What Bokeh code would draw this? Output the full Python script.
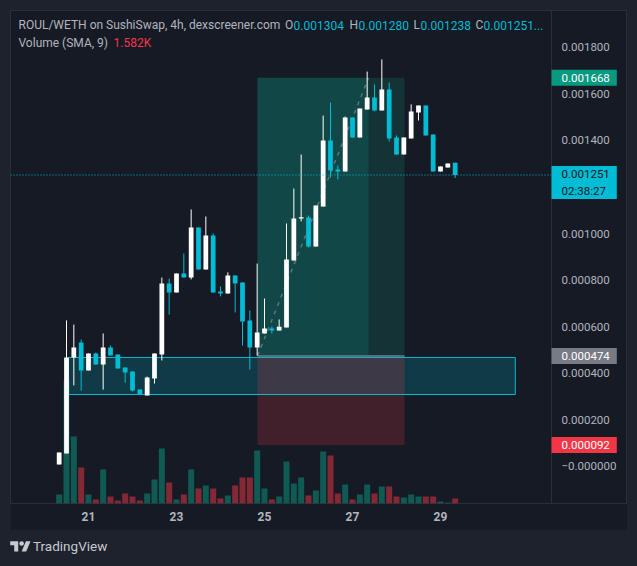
from bokeh.plotting import figure
from bokeh.models import (Range1d, FixedTicker, NumeralTickFormatter, Label,
                          ColumnDataSource, Div)
from bokeh.layouts import column
from bokeh.embed import file_html
from bokeh.resources import INLINE

# ---------------- data (4h candles, ROUL/WETH) ----------------
opens = [0.000009, 0.000056, 0.000468, 0.000532, 0.000412, 0.000485, 0.000438, 0.000511,
         0.000481, 0.000425, 0.000408, 0.000330, 0.000305, 0.000378, 0.000481, 0.000785,
         0.000747, 0.000828, 0.000811, 0.001026, 0.000845, 0.000991, 0.000751, 0.000742,
         0.000820, 0.000790, 0.000627, 0.000511, 0.000571, 0.000592, 0.000584, 0.000597,
         0.000884, 0.001064, 0.001069, 0.000944, 0.001116, 0.001399, 0.001275, 0.001266,
         0.001498, 0.001412, 0.001532, 0.001584, 0.001528, 0.001618, 0.001412, 0.001339,
         0.001408, 0.001519, 0.001549, 0.001425, 0.001266, 0.001283, 0.001304]
highs = [0.000060, 0.000627, 0.000609, 0.000545, 0.000485, 0.000489, 0.000571, 0.000519,
         0.000481, 0.000425, 0.000408, 0.000330, 0.000386, 0.000485, 0.000811, 0.000807,
         0.000828, 0.000914, 0.001103, 0.001026, 0.001073, 0.001000, 0.000773, 0.000833,
         0.000820, 0.000790, 0.000670, 0.000871, 0.000721, 0.000601, 0.000631, 0.001043,
         0.001193, 0.001339, 0.001077, 0.001120, 0.001506, 0.001562, 0.001292, 0.001502,
         0.001498, 0.001536, 0.001695, 0.001640, 0.001747, 0.001648, 0.001421, 0.001412,
         0.001554, 0.001549, 0.001549, 0.001425, 0.001288, 0.001300, 0.001304]
lows = [0.000009, 0.000056, 0.000348, 0.000326, 0.000412, 0.000438, 0.000330, 0.000476,
        0.000421, 0.000360, 0.000322, 0.000309, 0.000305, 0.000356, 0.000455, 0.000652,
        0.000747, 0.000811, 0.000803, 0.000845, 0.000845, 0.000747, 0.000730, 0.000742,
        0.000661, 0.000519, 0.000416, 0.000476, 0.000571, 0.000571, 0.000584, 0.000597,
        0.000884, 0.001052, 0.000940, 0.000944, 0.001116, 0.001240, 0.001232, 0.001266,
        0.001412, 0.001412, 0.001532, 0.001524, 0.001528, 0.001395, 0.001339, 0.001339,
        0.001408, 0.001485, 0.001421, 0.001266, 0.001266, 0.001283, 0.001238]
closes = [0.000060, 0.000468, 0.000511, 0.000412, 0.000485, 0.000438, 0.000511, 0.000476,
          0.000421, 0.000403, 0.000326, 0.000309, 0.000382, 0.000485, 0.000785, 0.000747,
          0.000828, 0.000811, 0.001026, 0.000845, 0.000991, 0.000747, 0.000742, 0.000820,
          0.000785, 0.000622, 0.000511, 0.000575, 0.000592, 0.000584, 0.000600, 0.000888,
          0.001064, 0.001070, 0.000944, 0.001120, 0.001399, 0.001270, 0.001266, 0.001498,
          0.001412, 0.001536, 0.001584, 0.001528, 0.001618, 0.001408, 0.001339, 0.001412,
          0.001524, 0.001549, 0.001421, 0.001266, 0.001288, 0.001300, 0.001251]
volumes_k = [2.10, 28.66, 15.61, 8.39, 2.10, 0.93, 7.92, 1.63, 0.70, 2.33, 1.63, 0.70,
             2.33, 5.59, 12.82, 4.89, 0.93, 2.10, 7.92, 3.50, 4.19, 3.50, 1.17, 1.86,
             4.19, 6.06, 6.06, 12.35, 3.50, 0.93, 1.63, 9.79, 4.66, 6.06, 1.86, 3.03,
             12.12, 11.18, 2.33, 4.43, 0.93, 2.10, 4.43, 2.33, 3.96, 3.96, 1.63, 1.40,
             2.10, 1.63, 1.63, 1.63, 0.47, 0.23, 1.17]

day_ticks = [4, 16, 28, 40, 52]
day_labels = ["21", "23", "25", "27", "29"]
price_ticks = [0.0, 0.0002, 0.0004, 0.0006, 0.0008, 0.0010, 0.0014, 0.0016, 0.0018]

zone_start, zone_end = 1.27, 62.2
zone_bottom, zone_top = 0.000309, 0.000468

pos_start, pos_hit, pos_end = 27.04, 42.18, 47.09
entry_price, target_price, stop_price = 0.000474, 0.001668, 0.000092
last_price = 0.001251
countdown = "02:38:27"

title_text = "ROUL/WETH on SushiSwap, 4h, dexscreener.com"
ohlc_names = ["O", "H", "L", "C"]
ohlc_values = ["0.001304", "0.001280", "0.001238", "0.001251..."]
vol_title = "Volume (SMA, 9)"
vol_sma_text = "1.582K"

# ---------------- view / style ----------------
X_START, X_END = -6.637, 77.50      # frame spans chart + price scale
SCALE_X = 67.14                     # price scale separator
Y_START, Y_END = -0.0001588, 0.0019571
FRAME_W, FRAME_H = 617, 493
VOL_TOP = 114.87

PANEL = "#161a25"
OUTER = "#1e222d"
GRID_LINE = "#2a2e39"
TXT = "#b2b5be"
UP = "#ffffff"
DOWN = "#00bcd4"
FONT = "Roboto"

PX_X = (X_END - X_START) / FRAME_W
PX_Y = (Y_END - Y_START) / FRAME_H


def fx(px):
    return X_START + px * PX_X


def fy(py):
    return Y_END - py * PX_Y


n = len(opens)
idx = list(range(n))
is_up = [c >= o for o, c in zip(opens, closes)]
src = ColumnDataSource(dict(
    x=idx,
    top=[max(o, c) for o, c in zip(opens, closes)],
    bottom=[min(o, c) for o, c in zip(opens, closes)],
    high=highs, low=lows,
    color=[UP if u else DOWN for u in is_up],
    vol=volumes_k,
    vcolor=["#089981" if u else "#f23645" for u in is_up],
))

p = figure(frame_width=FRAME_W, frame_height=FRAME_H,
           x_range=Range1d(X_START, X_END), y_range=Range1d(Y_START, Y_END),
           y_axis_location="right", output_backend="svg", toolbar_location=None,
           min_border_left=0, min_border_top=0, min_border_right=0, min_border_bottom=27)
p.margin = (10, 10, 0, 10)
p.extra_y_ranges = {"vol": Range1d(0, VOL_TOP)}
p.background_fill_color = PANEL
p.border_fill_color = PANEL
p.outline_line_color = GRID_LINE
p.xgrid.grid_line_color = None
p.ygrid.grid_line_color = None

# volume
p.vbar(x="x", width=0.82, top="vol", bottom=0, source=src, y_range_name="vol",
       fill_color="vcolor", fill_alpha=0.5, line_color=None)

# zone rectangle
p.quad(left=[zone_start], right=[zone_end], bottom=[zone_bottom], top=[zone_top],
       fill_color=DOWN, fill_alpha=0.2, line_color=None)

# long position tool
p.quad(left=[pos_start], right=[pos_end], bottom=[entry_price], top=[target_price],
       fill_color="#089981", fill_alpha=0.2, line_color=None)
p.quad(left=[pos_start], right=[pos_hit], bottom=[entry_price], top=[target_price],
       fill_color="#089981", fill_alpha=0.2, line_color=None)
p.quad(left=[pos_start], right=[pos_end], bottom=[stop_price], top=[entry_price],
       fill_color="#f23645", fill_alpha=0.2, line_color=None)
p.segment(x0=[pos_start], y0=[entry_price], x1=[pos_end], y1=[entry_price],
          line_color="#787b86", line_width=1.5)
p.line([pos_start, pos_hit], [entry_price, target_price], line_color="#787b86",
       line_alpha=0.8, line_width=1.5, line_dash="4 5")

# zone borders
p.quad(left=[zone_start], right=[zone_end], bottom=[zone_bottom], top=[zone_top],
       fill_alpha=0, line_color=DOWN, line_width=1)

# candles
p.segment(x0="x", y0="low", x1="x", y1="high", source=src, line_color="color", line_width=1)
p.vbar(x="x", width=0.65, top="top", bottom="bottom", source=src,
       fill_color="color", line_color=None)

# current price line (chart pane only)
p.segment(x0=[X_START], y0=[last_price], x1=[SCALE_X], y1=[last_price],
          line_color=DOWN, line_dash="1 2", line_width=1)

# price scale: fixed inside the frame at the separator
ya = p.yaxis[0]
ya.fixed_location = SCALE_X
ya.ticker = FixedTicker(ticks=price_ticks)
ya.formatter = NumeralTickFormatter(format="0.000000")
ya.major_label_overrides = {0: "\u22120.000000"}
ya.axis_line_color = GRID_LINE
ya.major_tick_line_color = None
ya.minor_tick_line_color = None
ya.major_tick_out = 0
ya.major_tick_in = 0
ya.major_label_standoff = 10
ya.major_label_text_color = TXT
ya.major_label_text_font = FONT
ya.major_label_text_font_size = "11.5px"

xa = p.xaxis[0]
xa.ticker = FixedTicker(ticks=day_ticks)
xa.major_label_overrides = {t: l for t, l in zip(day_ticks, day_labels)}
xa.axis_line_color = None
xa.major_tick_line_color = None
xa.minor_tick_line_color = None
xa.major_tick_out = 0
xa.major_tick_in = 0
xa.major_label_standoff = 8
xa.major_label_text_color = TXT
xa.major_label_text_font = FONT
xa.major_label_text_font_style = "bold"
xa.major_label_text_font_size = "12px"


# price tags on the scale (box anchored at the separator)
def tag(price, text, bg, fg, y_shift_px=0.0, vpad=4):
    kw = dict(x=SCALE_X, y=price - y_shift_px * PX_Y, text=text,
              text_align="left", text_baseline="middle", text_font=FONT,
              text_font_size="11.5px", text_color=fg,
              background_fill_color=bg, background_fill_alpha=1.0,
              border_line_color=None)
    lab = None
    for pad in [(10, 7, vpad, vpad), (8, vpad), 2]:
        try:
            lab = Label(padding=pad, **kw)
            break
        except Exception:
            continue
    p.add_layout(lab)


tag(target_price, f"{target_price:.6f}", "#089981", "#ffffff")
tag(last_price, f"{last_price:.6f}\n{countdown}", DOWN, "#131722", y_shift_px=7.5, vpad=1)
tag(entry_price, f"{entry_price:.6f}", "#787b86", "#ffffff")
tag(stop_price, f"{stop_price:.6f}", "#f23645", "#ffffff")


# header legend
def htext(px, py, text, color):
    p.add_layout(Label(x=fx(px), y=fy(py), text=text, text_align="left",
                       text_baseline="middle", text_font=FONT, text_font_size="12px",
                       text_color=color))


htext(8, 14.5, title_text, TXT)
for name, val, xn, xv in zip(ohlc_names, ohlc_values, [274.5, 339, 403, 465], [283, 348, 410, 473]):
    htext(xn, 14.5, name, TXT)
    htext(xv, 14.5, val, DOWN)
htext(8, 32, vol_title, TXT)
htext(103, 32, vol_sma_text, "#f23645")

logo = ('<svg xmlns="http://www.w3.org/2000/svg" width="21" height="16" viewBox="0 0 36 28">'
        '<path fill="#c8cad0" d="M14 22H7V11H0V4h14v18zM28 22h-8l7.5-18h8L28 22z"></path>'
        '<circle cx="20" cy="8" r="4" fill="#c8cad0"></circle></svg>')
footer = Div(text=('<div style="display:flex;align-items:center;height:20px;padding:14px 0 0 10px;">'
                   + logo +
                   '<span style="margin-left:2px;font-family:Roboto;font-size:13.5px;color:#c8cad0;">'
                   'TradingView</span></div>'),
             width=637, height=36, margin=(0, 0, 0, 0),
             styles={"background-color": OUTER})

layout = column(p, footer, spacing=0, styles={"background-color": OUTER})
open("out.html", "w").write(file_html(layout, INLINE))
